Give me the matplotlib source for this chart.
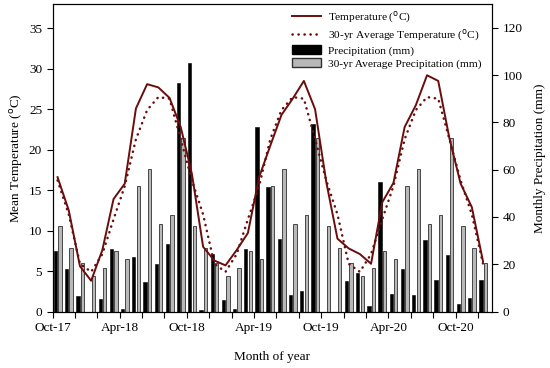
import numpy as np
import matplotlib
matplotlib.use('Agg')
import matplotlib.pyplot as plt
from matplotlib.lines import Line2D
from matplotlib.patches import Patch

plt.rcParams['font.family'] = ['Liberation Serif', 'DejaVu Serif']

# months Oct-17 .. Dec-20
months = ['Oct-17', 'Nov-17', 'Dec-17', 'Jan-18', 'Feb-18', 'Mar-18', 'Apr-18', 'May-18', 'Jun-18',
          'Jul-18', 'Aug-18', 'Sep-18', 'Oct-18', 'Nov-18', 'Dec-18', 'Jan-19', 'Feb-19', 'Mar-19',
          'Apr-19', 'May-19', 'Jun-19', 'Jul-19', 'Aug-19', 'Sep-19', 'Oct-19', 'Nov-19', 'Dec-19',
          'Jan-20', 'Feb-20', 'Mar-20', 'Apr-20', 'May-20', 'Jun-20', 'Jul-20', 'Aug-20', 'Sep-20',
          'Oct-20', 'Nov-20', 'Dec-20']

temp = [16.6, 12.5, 5.6, 3.8, 7.6, 13.9, 15.8, 25.1, 28.1, 27.7, 26.4, 22.8, 17.0,
        8.0, 6.3, 5.7, 7.6, 9.7, 16.6, 20.5, 24.3, 26.3, 28.5, 25.0, 16.0, 9.0, 7.8,
        7.1, 5.9, 13.5, 15.9, 22.8, 25.5, 29.2, 28.5, 21.4, 15.8, 12.9, 6.2]

# 30-yr monthly averages, Jan..Dec
avg_temp_month = [4.9, 7.1, 11.4, 15.5, 21.3, 24.9, 26.5, 26.3, 21.3, 16.2, 12.0, 5.9]
avg_prec_month = [15.2, 18.2, 25.7, 22.3, 53.1, 60.1, 37.0, 40.8, 73.5, 36.1, 26.7, 20.4]

prec = [25.7, 17.8, 6.4, 0.0, 5.4, 26.3, 1.0, 22.9, 12.5, 20.0, 28.4, 96.7, 104.9,
        0.6, 24.2, 4.9, 0.9, 26.6, 77.9, 52.8, 30.8, 7.0, 8.5, 79.3, 0.0, 0.0, 12.9,
        16.1, 2.3, 54.8, 7.4, 17.8, 7.0, 30.2, 13.5, 24.0, 3.3, 5.7, 13.3]

# calendar month index (0=Jan) for each entry, starting at October
cal = [(9 + i) % 12 for i in range(len(months))]
avg_temp = [avg_temp_month[c] for c in cal]
avg_prec = [avg_prec_month[c] for c in cal]

x = np.arange(len(months)) + 0.45
red = '#6a0d0d'
dots = (0, (0.1, 2.3))

fig = plt.figure(figsize=(5.5, 3.68), dpi=100)
ax = fig.add_axes([0.0955, 0.1535, 0.799, 0.8355])
ax2 = ax.twinx()

ax2.bar(x - 0.19, prec, width=0.3, color='black', edgecolor='black', linewidth=0.4)
ax2.bar(x + 0.21, avg_prec, width=0.3, color='#b8b8b8', edgecolor='#303030', linewidth=0.6)

ax.plot(x, temp, color=red, lw=1.4)
ax.plot(x, avg_temp, color=red, lw=1.8, linestyle=dots, dash_capstyle='round')

ax.set_zorder(ax2.get_zorder() + 1)
ax.patch.set_visible(False)

ax.set_xlim(0, 39.25)
ax.set_ylim(0, 38)
ax2.set_ylim(0, 130)
ax.set_yticks(np.arange(0, 36, 5))
ax2.set_yticks(np.arange(0, 121, 20))
ax.set_xticks(np.arange(0, 39, 2))
ax.set_xticklabels([months[i] if i % 6 == 0 else '' for i in range(0, 39, 2)])

for a in (ax, ax2):
    a.tick_params(direction='out', length=4, width=0.8, labelsize=9.5, colors='black')
    for s in a.spines.values():
        s.set_linewidth(0.8)

ax.set_xlabel('Month of year', fontsize=9.5, labelpad=12)
ax.set_ylabel(r'Mean Temperature ($^{\rm o}$C)', fontsize=9.5, labelpad=3)
ax2.set_ylabel('Monthly Precipitation (mm)', fontsize=9.5, labelpad=8)

handles = [Line2D([], [], color=red, lw=1.4),
           Line2D([], [], color=red, lw=1.8, linestyle=dots, dash_capstyle='round'),
           Patch(facecolor='black', edgecolor='black'),
           Patch(facecolor='#b8b8b8', edgecolor='#303030')]
labels = [r'Temperature ($^{\rm o}$C)', r'30-yr Average Temperature ($^{\rm o}$C)',
          'Precipitation (mm)', '30-yr Average Precipitation (mm)']
ax.legend(handles, labels, loc='upper right', bbox_to_anchor=(1.0, 1.015), frameon=False,
          fontsize=8.2, handlelength=2.6, handleheight=0.85, labelspacing=0.2, handletextpad=0.6)

fig.savefig('out.png', dpi=100)
